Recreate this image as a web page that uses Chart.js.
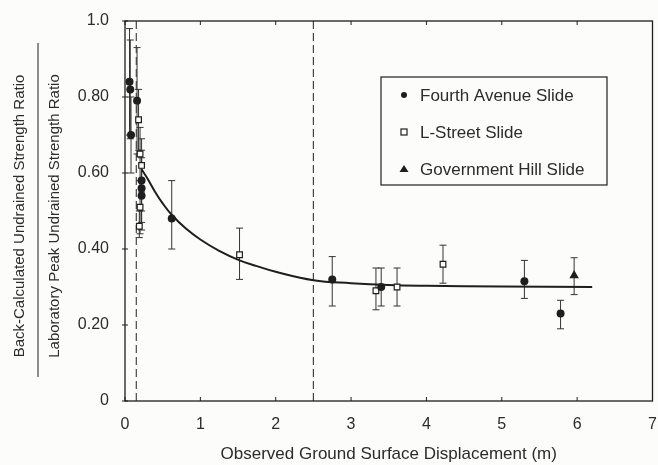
<!DOCTYPE html>
<html>
<head>
<meta charset="utf-8">
<script src="https://cdn.jsdelivr.net/npm/chart.js@4.4.1/dist/chart.umd.min.js"></script>
<style>
  html, body { margin: 0; padding: 0; background: #fcfcfa; }
</style>
</head>
<body>
<canvas id="slideChart" width="658" height="465"></canvas>
<script>
// values
const yTickLabels = ['0', '0.20', '0.40', '0.60', '0.80', '1.0'];
const seriesNames = ['Fourth Avenue Slide', 'L-Street Slide', 'Government Hill Slide'];

const fourthX    = [0.06, 0.07, 0.08, 0.16, 0.22, 0.22, 0.22, 0.62, 2.75, 3.40, 5.30, 5.78];
const fourthY    = [0.84, 0.82, 0.70, 0.79, 0.58, 0.56, 0.54, 0.48, 0.32, 0.30, 0.315, 0.23];
const fourthLow  = [0.70, 0.69, 0.60, 0.65, 0.50, 0.47, 0.45, 0.40, 0.25, 0.25, 0.27, 0.19];
const fourthHigh = [0.98, 0.95, 0.80, 0.93, 0.66, 0.64, 0.62, 0.58, 0.38, 0.35, 0.37, 0.265];

const lstreetX    = [0.18, 0.20, 0.22, 0.20, 0.19, 1.52, 3.33, 3.61, 4.22];
const lstreetY    = [0.74, 0.65, 0.62, 0.51, 0.46, 0.385, 0.29, 0.30, 0.36];
const lstreetLow  = [0.66, 0.58, 0.55, 0.44, 0.43, 0.32, 0.24, 0.25, 0.31];
const lstreetHigh = [0.82, 0.72, 0.69, 0.58, 0.50, 0.455, 0.35, 0.35, 0.41];

const govX    = [5.96];
const govY    = [0.33];
const govLow  = [0.28];
const govHigh = [0.377];

// fitted trend curve
const curveX = [0.22, 0.30, 0.40, 0.50, 0.62, 0.80, 1.00, 1.25, 1.52, 1.75, 2.00, 2.50, 3.00, 3.50, 4.00, 5.00, 6.20];
const curveY = [0.61, 0.585, 0.55, 0.52, 0.49, 0.455, 0.425, 0.395, 0.37, 0.355, 0.34, 0.318, 0.31, 0.305, 0.303, 0.301, 0.30];

// dashed vertical boundaries
const boundaryX = [0.15, 2.5];

const ink = '#1e1e1e';
const textInk = '#2c2c2c';
const fontName = '"Liberation Sans", Arial, sans-serif';

function toPoints(xs, ys) {
    return xs.map((x, i) => ({ x: x, y: ys[i] }));
}

// error bars drawn through the chart scales
const errorBarPlugin = {
    id: 'errorBars',
    beforeDatasetsDraw(chart) {
        const ctx = chart.ctx;
        const xs = chart.scales.x, ys = chart.scales.y;
        ctx.save();
        ctx.strokeStyle = '#333';
        ctx.lineWidth = 1;
        chart.data.datasets.forEach(ds => {
            if (!ds.errLow) return;
            ds.data.forEach((p, i) => {
                const px = xs.getPixelForValue(p.x);
                const top = ys.getPixelForValue(ds.errHigh[i]);
                const bot = ys.getPixelForValue(ds.errLow[i]);
                ctx.beginPath();
                ctx.moveTo(px, top); ctx.lineTo(px, bot);
                ctx.moveTo(px - 3.5, top); ctx.lineTo(px + 3.5, top);
                ctx.moveTo(px - 3.5, bot); ctx.lineTo(px + 3.5, bot);
                ctx.stroke();
            });
        });
        ctx.restore();
    }
};

// frame, small inward ticks, y title with fraction bar, and legend box
const decorPlugin = {
    id: 'decor',
    afterDraw(chart) {
        const ctx = chart.ctx;
        const a = chart.chartArea;
        const xs = chart.scales.x, ys = chart.scales.y;
        ctx.save();
        ctx.strokeStyle = ink;
        ctx.lineWidth = 1.3;
        ctx.strokeRect(a.left, a.top, a.right - a.left, a.bottom - a.top);

        ctx.lineWidth = 1;
        xs.ticks.forEach(t => {
            const px = xs.getPixelForValue(t.value);
            ctx.beginPath();
            ctx.moveTo(px, a.bottom); ctx.lineTo(px, a.bottom - 4);
            ctx.moveTo(px, a.top); ctx.lineTo(px, a.top + 4);
            ctx.stroke();
        });
        ys.ticks.forEach(t => {
            const py = ys.getPixelForValue(t.value);
            ctx.beginPath();
            ctx.moveTo(a.left - 3, py); ctx.lineTo(a.left + 3, py);
            ctx.stroke();
        });

        // y axis title as a ratio
        const cy = 216;
        ctx.fillStyle = textInk;
        ctx.font = '15px ' + fontName;
        ctx.textAlign = 'center';
        ctx.textBaseline = 'middle';
        ctx.save();
        ctx.translate(20, cy);
        ctx.rotate(-Math.PI / 2);
        ctx.fillText('Back-Calculated Undrained Strength Ratio', 0, 0);
        ctx.restore();
        ctx.save();
        ctx.translate(55, cy);
        ctx.rotate(-Math.PI / 2);
        ctx.fillText('Laboratory Peak Undrained Strength Ratio', 0, 0);
        ctx.restore();
        ctx.beginPath();
        ctx.moveTo(38, 43); ctx.lineTo(38, 377);
        ctx.stroke();

        // legend
        ctx.lineWidth = 1.2;
        ctx.strokeRect(381, 77, 226, 108);
        ctx.font = '17px ' + fontName;
        ctx.textAlign = 'left';
        const rows = [95, 132, 169];
        seriesNames.forEach((name, i) => {
            const y = rows[i];
            ctx.fillStyle = ink;
            if (i === 0) {
                ctx.beginPath(); ctx.arc(404, y, 3, 0, Math.PI * 2); ctx.fill();
            } else if (i === 1) {
                ctx.fillStyle = '#fff';
                ctx.fillRect(401, y - 3, 6, 6);
                ctx.strokeRect(401, y - 3, 6, 6);
            } else {
                ctx.beginPath();
                ctx.moveTo(404, y - 4); ctx.lineTo(408.5, y + 3); ctx.lineTo(399.5, y + 3);
                ctx.closePath(); ctx.fill();
            }
            ctx.fillStyle = textInk;
            ctx.fillText(name, 420, y + 1);
        });
        ctx.restore();
    }
};

const datasets = [
    {
        type: 'scatter',
        label: seriesNames[0],
        data: toPoints(fourthX, fourthY),
        errLow: fourthLow, errHigh: fourthHigh,
        pointStyle: 'circle', pointRadius: 4,
        backgroundColor: ink, borderColor: ink, borderWidth: 0
    },
    {
        type: 'scatter',
        label: seriesNames[1],
        data: toPoints(lstreetX, lstreetY),
        errLow: lstreetLow, errHigh: lstreetHigh,
        pointStyle: 'rect', pointRadius: 4,
        backgroundColor: '#fff', borderColor: ink, borderWidth: 1.2
    },
    {
        type: 'scatter',
        label: seriesNames[2],
        data: toPoints(govX, govY),
        errLow: govLow, errHigh: govHigh,
        pointStyle: 'triangle', pointRadius: 5.5,
        backgroundColor: ink, borderColor: ink, borderWidth: 0
    },
    {
        type: 'line',
        label: 'trend',
        data: toPoints(curveX, curveY),
        borderColor: ink, borderWidth: 2,
        pointRadius: 0, tension: 0.4, fill: false
    }
];
boundaryX.forEach(bx => {
    datasets.push({
        type: 'line',
        label: 'boundary',
        data: [{ x: bx, y: 0 }, { x: bx, y: 1 }],
        borderColor: '#444', borderWidth: 1.2, borderDash: [8, 4],
        pointRadius: 0, fill: false
    });
});

new Chart(document.getElementById('slideChart').getContext('2d'), {
    data: { datasets: datasets },
    options: {
        responsive: false,
        animation: false,
        layout: { padding: { top: 21, right: 3, left: 0, bottom: 0 } },
        plugins: { legend: { display: false }, tooltip: { enabled: false } },
        scales: {
            x: {
                type: 'linear', min: 0, max: 7,
                ticks: { stepSize: 1, color: textInk, padding: 6, font: { family: fontName, size: 16 } },
                grid: { display: false },
                border: { display: false },
                title: {
                    display: true, text: 'Observed Ground Surface Displacement (m)',
                    color: textInk, font: { family: fontName, size: 17 }, padding: { top: 0, bottom: 0 }
                },
                afterFit(scale) {
                    scale.height = 64;
                    scale.paddingLeft = 0;
                    scale.paddingRight = 0;
                }
            },
            y: {
                type: 'linear', min: 0, max: 1,
                ticks: {
                    stepSize: 0.2, color: textInk, padding: 8,
                    font: { family: fontName, size: 16 },
                    callback: (value, index) => yTickLabels[index]
                },
                grid: { display: false },
                border: { display: false },
                afterFit(scale) {
                    scale.width = 125;
                    scale.paddingTop = 0;
                    scale.paddingBottom = 0;
                }
            }
        }
    },
    plugins: [errorBarPlugin, decorPlugin]
});
</script>
</body>
</html>
